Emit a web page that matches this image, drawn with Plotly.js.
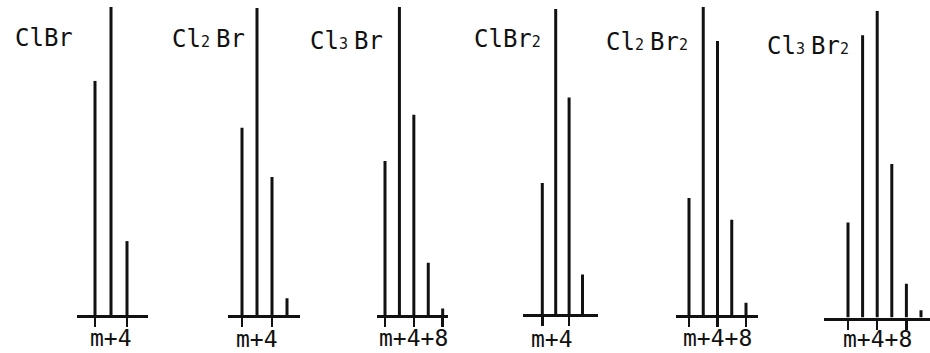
<!DOCTYPE html>
<html>
<head>
<meta charset="utf-8">
<script src="https://cdn.plot.ly/plotly-3.0.1.min.js"></script>
<style>html,body{margin:0;padding:0;background:#fff;}#chart{width:930px;height:353px;}</style>
</head>
<body>
<div id="chart"></div>
<script>
// ---- data ----
const compounds = ["ClBr", "Cl2Br", "Cl3Br", "ClBr2", "Cl2Br2", "Cl3Br2"];
// isotope peak intensities (relative %, m, m+2, m+4, ...)
const clBr     = [76, 100, 24];
const cl2Br    = [61, 100, 45, 5.5];
const cl3Br    = [50, 100, 65, 17, 2.2];
const clBr2    = [43, 100, 71, 13];
const cl2Br2   = [38, 100, 89, 31, 4];
const cl3Br2   = [31, 92, 100, 50, 11, 2.4];
const massStep = 2;
const tickLabels = ["m+4", "m+4", "m+4+8", "m+4", "m+4+8", "m+4+8"];
const tickMasses = [[0, 4], [0, 4], [0, 4, 8], [0, 4], [0, 4, 8], [0, 4, 8]];

const series = [clBr, cl2Br, cl3Br, clBr2, cl2Br2, cl3Br2];

// ---- layout geometry (pixels) ----
const W = 930, H = 353;
const geom = [
  {L: 77,    R: 148,   m0: 95,    ppu: 8.0,  base: 316.5, top: 7,    tx: 13,  ty: 38,   lx: 0,  ly: 338},
  {L: 228,   R: 300,   m0: 242,   ppu: 7.5,  base: 316.7, top: 8,    tx: 170, ty: 39,   lx: 0,  ly: 339},
  {L: 377,   R: 448,   m0: 385,   ppu: 7.21, base: 316.7, top: 7,    tx: 308, ty: 41,   lx: 0,  ly: 338},
  {L: 522.7, R: 597.7, m0: 542.3, ppu: 6.7,  base: 315.7, top: 9,    tx: 472, ty: 39,   lx: -4, ly: 339},
  {L: 676,   R: 758,   m0: 689,   ppu: 7.125,base: 316.7, top: 7,    tx: 604, ty: 42.5, lx: 0,  ly: 338},
  {L: 824,   R: 930,   m0: 848,   ppu: 7.3,  base: 319,   top: 10.7, tx: 765, ty: 46,   lx: 0,  ly: 339}
];

const ink = "#111";
const monoFont = "DejaVu Sans Mono, monospace";

function formula(name) {
  // digits drawn as small numerals sitting on the baseline; a narrow gap after them
  return name.replace(/(\d)(?=[A-Z])/g, "<span style='font-size:15px'>$1</span><span style='font-size:10px'> </span>")
             .replace(/(\d)$/g, "<span style='font-size:15px'>$1</span>");
}

const traces = [];
const layout = {
  width: W, height: H,
  margin: {l: 0, r: 0, t: 0, b: 0},
  paper_bgcolor: "#fff", plot_bgcolor: "rgba(0,0,0,0)",
  showlegend: false,
  annotations: []
};

series.forEach((vals, i) => {
  const g = geom[i];
  const n = i + 1;
  const xa = "x" + (n === 1 ? "" : n), ya = "y" + (n === 1 ? "" : n);
  const xs = [], ys = [];
  vals.forEach((v, k) => { xs.push(k * massStep, k * massStep, null); ys.push(0, v, null); });
  traces.push({
    type: "scatter", mode: "lines", x: xs, y: ys, xaxis: xa, yaxis: ya,
    line: {color: ink, width: 3}, hoverinfo: "skip"
  });
  const lw = 3;
  const yb = g.base - lw / 2;
  layout["xaxis" + (n === 1 ? "" : n)] = {
    domain: [g.L / W, g.R / W],
    range: [(g.L - g.m0) / g.ppu, (g.R - g.m0) / g.ppu],
    anchor: ya,
    showgrid: false, zeroline: false,
    showline: true, linecolor: ink, linewidth: lw,
    ticks: "outside", tickvals: tickMasses[i], ticklen: 9, tickwidth: 2.5, tickcolor: ink,
    showticklabels: false, fixedrange: true
  };
  layout["yaxis" + (n === 1 ? "" : n)] = {
    domain: [1 - yb / H, 1 - g.top / H],
    range: [0, 100], anchor: xa, visible: false, fixedrange: true
  };
  layout.annotations.push({
    text: formula(compounds[i]), xref: "paper", yref: "paper",
    x: g.tx / W, y: 1 - g.ty / H, xanchor: "left", yanchor: "middle",
    showarrow: false, font: {family: monoFont, size: 24, color: ink}
  });
  const mid = tickMasses[i][tickMasses[i].length - 1] / 2;
  layout.annotations.push({
    text: tickLabels[i], xref: xa, yref: "paper",
    x: mid, y: 1 - g.ly / H, xanchor: "center", yanchor: "middle", xshift: g.lx,
    showarrow: false, font: {family: monoFont, size: 23, color: ink}
  });
});

Plotly.newPlot("chart", traces, layout, {staticPlot: true, displayModeBar: false});
</script>
</body>
</html>
